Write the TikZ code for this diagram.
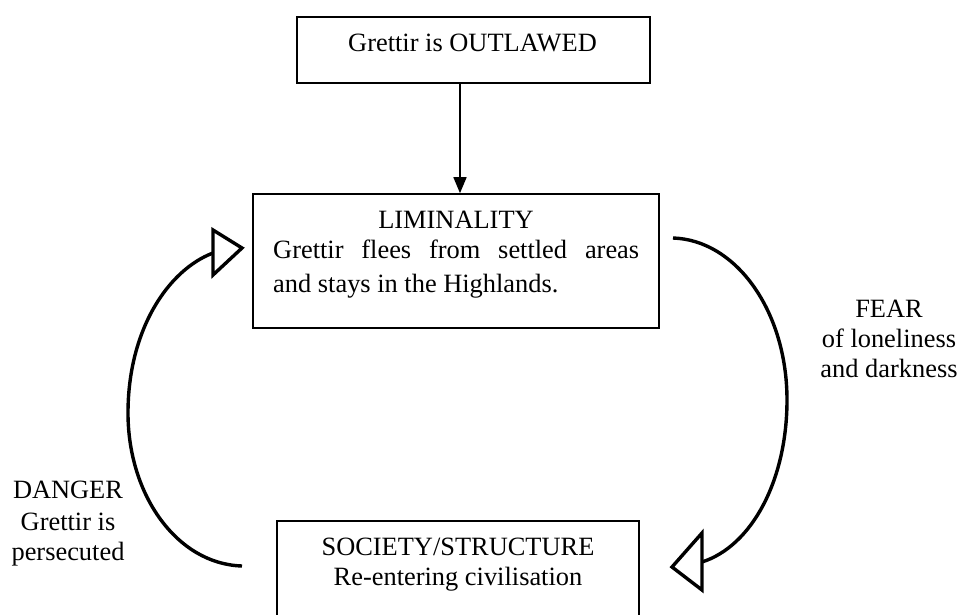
\documentclass[tikz,border=0pt]{standalone}
\usepackage{fontspec}
\setmainfont{Liberation Serif}
\usetikzlibrary{arrows.meta}
\begin{document}
\begin{tikzpicture}[x=1pt,y=-1pt,
  box/.style={draw=black,line width=1.6pt,inner sep=0pt},
  txt/.style={inner sep=0pt,anchor=base,font=\fontsize{26.4}{31}\selectfont},
  txtl/.style={txt,anchor=base west},
  loop/.style={line width=3.4pt},
  head/.style={line width=3.4pt,line join=miter}]
\useasboundingbox (0,0) rectangle (959,615);
% boxes
\node[box,minimum width=353pt,minimum height=66pt] (top) at (473.5,50) {};
\node[box,minimum width=406pt,minimum height=134pt] (lim) at (456,261) {};
\node[box,minimum width=362pt,minimum height=120pt] (soc) at (458,581) {};
% texts
\node[txt] (t1) at (472.5,52) {Grettir is OUTLAWED};
\node[txt] (l1) at (456,228) {LIMINALITY};
\node[txtl] (l2) at (273,258) {\makebox[366pt][s]{Grettir flees from settled areas}};
\node[txtl] (l3) at (273,292) {and stays in the Highlands.};
\node[txt] (s1) at (458,555) {SOCIETY/STRUCTURE};
\node[txt] (s2) at (458,585) {Re-entering civilisation};
\node[txt] (f1) at (889,317) {FEAR};
\node[txt] (f2) at (889,347) {of loneliness};
\node[txt] (f3) at (889,377) {and darkness};
\node[txt] (d1) at (68,498) {DANGER};
\node[txt] (d2) at (68,530) {Grettir is};
\node[txt] (d3) at (68,560) {persecuted};
% straight arrow
\coordinate (ax) at (460,0);
\draw[line width=1.6pt,-{Triangle[length=16pt,width=13pt]}] (top.south -| ax) -- (lim.north -| ax);
% right loop
\coordinate (rs) at (673,238);
\coordinate (re) at (702,562);
\draw[loop] (rs) .. controls (736,240) and (787,311) .. (787,400)
  .. controls (787,480) and (752,546) .. (re);
\draw[head] (702,533) -- (702,590) -- (672,567) -- cycle;
% left loop
\coordinate (ls) at (242,566);
\coordinate (le) at (213,253);
\draw[loop] (ls) .. controls (177,564) and (128,495) .. (128,413)
  .. controls (128,330) and (168,270) .. (le);
\draw[head] (213,230) -- (213,275) -- (242,248) -- cycle;
\end{tikzpicture}
\end{document}
